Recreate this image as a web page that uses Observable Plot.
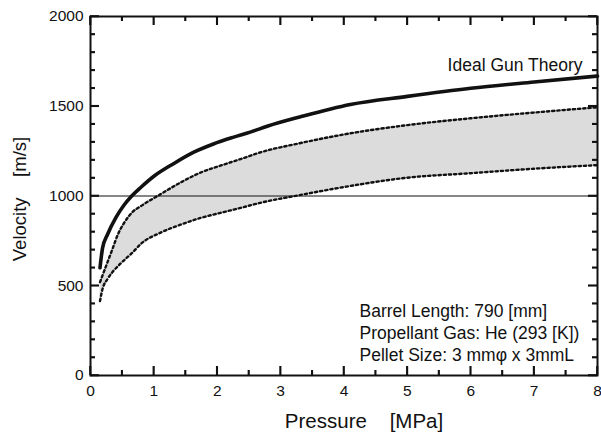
<!DOCTYPE html>
<html><head><meta charset="utf-8">
<script src="https://cdn.jsdelivr.net/npm/d3@7"></script>
<script src="https://cdn.jsdelivr.net/npm/@observablehq/plot@0.6"></script>
</head><body style="margin:0;background:#fff"><div id="chart"></div>
<script>
// Ideal gun theory curve
const idealPressure = [0.15, 0.17, 0.19, 0.27, 0.4, 0.53, 0.65, 0.8, 1.0, 1.31, 1.63, 1.94, 2.26, 2.52, 2.8, 3.3, 4.1, 5, 6, 7, 8];
const idealVelocity = [600, 660, 710, 787, 880, 950, 1000, 1050, 1110, 1180, 1244, 1290, 1328, 1356, 1390, 1440, 1510, 1555, 1600, 1635, 1668];
// Experimental band (dotted bounds, shaded between)
const bandPressure = [0.15, 0.19, 0.27, 0.35, 0.43, 0.53, 0.66, 0.8, 1.1, 1.42, 1.74, 2.05, 2.37, 2.68, 3.3, 4, 5, 6, 7, 8];
const bandUpper = [520, 558, 633, 708, 784, 850, 910, 945, 1009, 1075, 1131, 1169, 1206, 1243, 1294, 1343, 1395, 1433, 1465, 1494];
const bandLower = [415, 482, 538, 578, 608, 642, 684, 735, 795, 840, 878, 906, 934, 962, 1005, 1050, 1102, 1127, 1152, 1172];
// Reference line
const refVelocity = [1000];
// Ticks
const xMajorTicks = [0, 1, 2, 3, 4, 5, 6, 7, 8];
const xMinorTicks = [0.5, 1.5, 2.5, 3.5, 4.5, 5.5, 6.5, 7.5];
const yMajorTicks = [0, 500, 1000, 1500, 2000];
const yMinorTicks = [100, 200, 300, 400, 600, 700, 800, 900, 1100, 1200, 1300, 1400, 1600, 1700, 1800, 1900];
// Text
const curveLabel = "Ideal Gun Theory";
const notes = ["Barrel Length: 790 [mm]", "Propellant Gas: He (293 [K])", "Pellet Size: 3 mm\u03c6 x 3mmL"];
const xTitle = "Pressure\u00a0\u00a0\u00a0\u00a0[MPa]";
const yTitle = "Velocity\u00a0\u00a0\u00a0\u00a0[m/s]";

const ideal = idealPressure.map((p, i) => ({p, v: idealVelocity[i]}));
const band = bandPressure.map((p, i) => ({p, lo: bandLower[i], hi: bandUpper[i]}));

const W = 601, H = 442, ML = 90, MR = 4, MT = 16, MB = 67;
const FW = W - ML - MR, FH = H - MT - MB;
const MAJ = 9, MIN = 5;
const tk = {stroke: "#111", strokeWidth: 1.6};

// Inward ticks on all four sides, placed through Plot's own x and y scales
function insideTicks(index, scales, values, dims) {
  try {
    const {x, y} = scales;
    const {width, height, marginLeft, marginRight, marginTop, marginBottom} = dims;
    const left = marginLeft, right = width - marginRight, top = marginTop, bottom = height - marginBottom;
    const g = d3.create("svg:g").attr("stroke", "#111").attr("stroke-width", 1.6).attr("fill", "none");
    const add = (a, b, c, d) => g.append("line").attr("x1", a).attr("x2", b).attr("y1", c).attr("y2", d);
    for (const [ticks, len] of [[xMajorTicks, MAJ], [xMinorTicks, MIN]]) {
      for (const t of ticks) { const px = x(t); add(px, px, bottom, bottom - len); add(px, px, top, top + len); }
    }
    for (const [ticks, len] of [[yMajorTicks, MAJ], [yMinorTicks, MIN]]) {
      for (const t of ticks) { const py = y(t); add(left, left + len, py, py); add(right, right - len, py, py); }
    }
    return g.node();
  } catch (e) { return null; }
}

const chart = Plot.plot({
  width: W,
  height: H,
  marginLeft: ML,
  marginRight: MR,
  marginTop: MT,
  marginBottom: MB,
  x: {domain: [0, 8], axis: null},
  y: {domain: [0, 2000], axis: null},
  style: {fontFamily: "'Liberation Sans', Arial, Helvetica, sans-serif", fontSize: "15.5px", background: "#fff"},
  marks: [
    Plot.areaY(band, {x: "p", y1: "lo", y2: "hi", fill: "#dcdcdc", curve: "monotone-x"}),
    Plot.ruleY(refVelocity, {stroke: "#111", strokeWidth: 1.2}),
    Plot.lineY(band, {x: "p", y: "hi", stroke: "#111", strokeWidth: 2.4, strokeDasharray: "2.3,2.9", curve: "monotone-x"}),
    Plot.lineY(band, {x: "p", y: "lo", stroke: "#111", strokeWidth: 2.4, strokeDasharray: "2.3,2.9", curve: "monotone-x"}),
    Plot.lineY(ideal, {x: "p", y: "v", stroke: "#111", strokeWidth: 3.6, curve: "monotone-x"}),
    Plot.tickX(xMajorTicks, {x: d => d, insetTop: FH - MAJ, ...tk}),
    Plot.tickX(xMinorTicks, {x: d => d, insetTop: FH - MIN, ...tk}),
    Plot.tickX(xMajorTicks, {x: d => d, insetBottom: FH - MAJ, ...tk}),
    Plot.tickX(xMinorTicks, {x: d => d, insetBottom: FH - MIN, ...tk}),
    Plot.tickY(yMajorTicks, {y: d => d, insetRight: FW - MAJ, ...tk}),
    Plot.tickY(yMinorTicks, {y: d => d, insetRight: FW - MIN, ...tk}),
    Plot.tickY(yMajorTicks, {y: d => d, insetLeft: FW - MAJ, ...tk}),
    Plot.tickY(yMinorTicks, {y: d => d, insetLeft: FW - MIN, ...tk}),
    Plot.axisX({anchor: "bottom", ticks: xMajorTicks, tickSize: 0, tickPadding: 9, tickFormat: d => String(d), label: null, fontSize: 15.5, fill: "#111"}),
    Plot.axisY({anchor: "left", ticks: yMajorTicks, tickSize: 0, tickPadding: 7, tickFormat: d => String(d), label: null, fontSize: 15.5, fill: "#111"}),
    Plot.frame({stroke: "#111", strokeWidth: 2}),
    Plot.text([curveLabel], {frameAnchor: "top-right", dx: -15, dy: 54, textAnchor: "end", lineAnchor: "bottom", fontSize: 17.5, fill: "#111"}),
    Plot.text([notes.join("\n")], {frameAnchor: "bottom-left", dx: 269, dy: -15, textAnchor: "start", lineAnchor: "bottom", lineHeight: 1.24, fontSize: 17.5, fill: "#111"}),
    Plot.text([xTitle], {frameAnchor: "bottom", dx: 20, dy: 52, textAnchor: "middle", lineAnchor: "bottom", fontSize: 20.5, fill: "#111"}),
    Plot.text([yTitle], {frameAnchor: "left", dx: -65, dy: 3, rotate: -90, textAnchor: "middle", lineAnchor: "bottom", fontSize: 18.5, fill: "#111"}),
    insideTicks
  ]
});
document.getElementById("chart").appendChild(chart);
</script>
</body></html>
